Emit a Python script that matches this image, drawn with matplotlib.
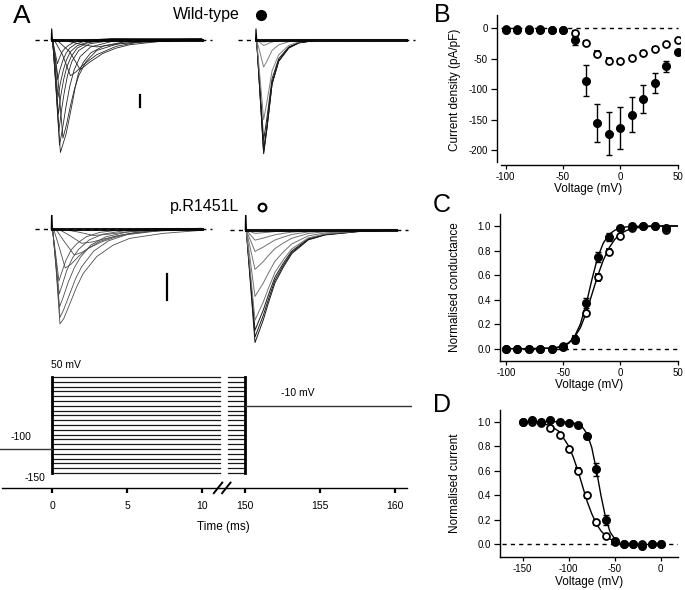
import matplotlib
matplotlib.use("Agg")
import matplotlib.pyplot as plt
from matplotlib.lines import Line2D
import numpy as np

plt.rcParams['font.family'] = ['Liberation Sans', 'DejaVu Sans']
plt.rcParams['axes.unicode_minus'] = False

## Panel B : I-V relation (pA/pF) ##
volt_iv = [-100, -90, -80, -70, -60, -50, -40, -30, -20, -10, 0, 10, 20, 30, 40, 50]
wt_iv = [-2, -2, -2, -2, -2, -3, -20, -86, -156, -173, -164, -142, -116, -90, -62, -39]
wt_iv_err = [1, 1, 1, 1, 1, 2, 7, 25, 31, 35, 34, 29, 23, 16, 9, 3]
mut_iv = [-1, -1, -1, -1, -2, -3, -7, -24, -42, -53, -54, -48, -41, -34, -26, -20]
mut_iv_err = [0.5, 0.5, 0.5, 0.5, 0.5, 1, 2, 3, 4, 4, 4, 3, 3, 3, 2, 2]

## Panel C : activation ##
volt_act = [-100, -90, -80, -70, -60, -50, -40, -30, -20, -10, 0, 10, 20, 30, 40]
wt_g = [0, 0, 0, 0, 0, 0.01, 0.07, 0.37, 0.75, 0.91, 0.98, 1.0, 1.0, 1.0, 0.98]
wt_g_err = [0, 0, 0, 0, 0, 0.01, 0.02, 0.04, 0.04, 0.03, 0.01, 0.01, 0.01, 0.01, 0.02]
mut_g = [0, 0, 0, 0, 0, 0.02, 0.08, 0.29, 0.58, 0.79, 0.92, 0.98, 1.0, 1.0, 0.97]
mut_g_err = [0, 0, 0, 0, 0, 0.01, 0.02, 0.02, 0.03, 0.02, 0.01, 0.01, 0.01, 0.01, 0.02]
# fit curves
fit_act_v = [-100, -80, -60, -55, -50, -45, -40, -35, -30, -25, -20, -15, -10, -5, 0, 5, 10, 20, 30, 50]
fit_act_wt = [0, 0, 0.003, 0.008, 0.02, 0.045, 0.1, 0.2, 0.36, 0.56, 0.74, 0.86, 0.93, 0.965,
              0.983, 0.992, 0.996, 0.999, 1.0, 1.0]
fit_act_mut = [0, 0, 0.005, 0.012, 0.025, 0.05, 0.095, 0.17, 0.29, 0.44, 0.59, 0.72, 0.82, 0.89,
               0.935, 0.962, 0.978, 0.993, 0.998, 1.0]

## Panel D : steady-state inactivation ##
volt_inact = [-150, -140, -130, -120, -110, -100, -90, -80, -70, -60, -50, -40, -30, -20, -10, 0]
wt_h = [1.0, 1.01, 1.0, 1.01, 1.0, 0.99, 0.97, 0.88, 0.61, 0.20, 0.03, 0.0, 0.0, -0.01, 0.0, 0.0]
wt_h_err = [0, 0, 0, 0, 0, 0.01, 0.01, 0.02, 0.05, 0.04, 0.01, 0, 0, 0, 0, 0]
mut_h = [1.0, 1.0, 0.99, 0.95, 0.89, 0.78, 0.60, 0.40, 0.18, 0.07, 0.02, 0, 0, 0, 0, 0]
mut_h_err = [0, 0, 0.01, 0.01, 0.01, 0.01, 0.02, 0.02, 0.02, 0.01, 0.01, 0, 0, 0, 0, 0]
fit_inact_v = [-150, -140, -130, -120, -110, -100, -95, -90, -85, -80, -75, -70, -65, -60, -55, -50, -45]
fit_inact_wt = [1.0, 1.0, 1.0, 1.0, 0.999, 0.995, 0.99, 0.975, 0.955, 0.9, 0.79, 0.61, 0.4, 0.22,
                0.1, 0.045, 0.02]
fit_inact_mut = [0.998, 0.996, 0.988, 0.968, 0.917, 0.8, 0.71, 0.6, 0.475, 0.35, 0.25, 0.168, 0.11,
                 0.07, 0.043, 0.027, 0.016]

## Panel A : current traces (time ms, current nA) ##
wt_act = [
    ([0, 0.8, 2.0, 3.0, 4.5, 6.5, 10], [0, -0.05, -0.4, -0.6, -0.35, -0.1, 0.05]),
    ([0, 0.4, 1.2, 1.9, 2.5, 3.4, 4.3, 5.2, 7.5, 10], [0, -0.1, -1.0, -2.5, -1.9, -1.15, -0.7, -0.42, -0.1, -0.05]),
    ([0, 0.2, 0.7, 1.25, 1.6, 2.1, 3.0, 4.3, 6.0, 10], [0, -0.1, -1.2, -3.0, -2.7, -2.1, -1.25, -0.55, -0.15, 0.0]),
    ([0, 0.08, 0.3, 0.58, 0.95, 1.18, 1.4, 1.56, 1.78, 2.1, 2.6, 3.5, 5, 10],
     [0, -0.2, -4.2, -9.4, -7.9, -6.5, -5.1, -4.0, -2.8, -1.9, -1.1, -0.5, -0.15, 0.1]),
    ([0, 0.1, 0.4, 0.75, 1.0, 1.25, 1.5, 1.8, 2.3, 3.0, 4.5, 10],
     [0, -0.2, -3.0, -8.2, -7.0, -5.5, -4.2, -3.0, -1.8, -0.9, -0.3, 0.0]),
    ([0, 0.07, 0.28, 0.52, 0.75, 0.95, 1.2, 1.5, 1.9, 2.6, 4, 10],
     [0, -0.2, -4.0, -8.8, -7.2, -5.6, -3.9, -2.5, -1.4, -0.6, -0.15, -0.05]),
    ([0, 0.07, 0.26, 0.48, 0.65, 0.85, 1.05, 1.35, 1.8, 2.5, 4, 10],
     [0, -0.2, -3.4, -7.6, -5.9, -4.3, -3.0, -1.8, -0.9, -0.35, -0.05, 0.05]),
    ([0, 0.06, 0.25, 0.45, 0.6, 0.8, 1.0, 1.3, 1.7, 2.4, 4, 10],
     [0, -0.15, -2.8, -6.2, -4.7, -3.3, -2.3, -1.4, -0.7, -0.25, 0.0, 0.0]),
    ([0, 0.06, 0.24, 0.42, 0.58, 0.78, 0.98, 1.25, 1.7, 2.4, 4, 10],
     [0, -0.1, -2.2, -4.8, -3.6, -2.5, -1.7, -1.0, -0.5, -0.2, 0.05, 0.1]),
    ([0, 0.05, 0.22, 0.4, 0.55, 0.75, 0.95, 1.2, 1.6, 2.3, 4, 10],
     [0, -0.1, -1.5, -3.3, -2.5, -1.7, -1.15, -0.7, -0.35, -0.1, 0.05, -0.05]),
    ([0, 0.05, 0.2, 0.38, 0.52, 0.7, 0.9, 1.15, 1.5, 2.2, 4, 10],
     [0, -0.05, -0.9, -2.0, -1.5, -1.0, -0.7, -0.45, -0.2, -0.05, 0.1, 0.05]),
]
mut_act = [
    ([0, 0.08, 0.3, 0.55, 0.8, 1.22, 1.67, 2.1, 3.0, 4.1, 5.2, 7.4, 10],
     [0, -0.1, -1.6, -3.65, -3.45, -2.86, -2.22, -1.71, -1.06, -0.62, -0.36, -0.17, -0.05]),
    ([0, 0.08, 0.3, 0.55, 0.8, 1.2, 1.6, 2.0, 2.8, 3.8, 5.0, 7.0, 10],
     [0, -0.1, -1.5, -3.4, -3.1, -2.5, -1.9, -1.45, -0.85, -0.45, -0.22, -0.08, 0.0]),
    ([0, 0.07, 0.28, 0.52, 0.75, 1.1, 1.5, 1.9, 2.6, 3.6, 5.0, 7.0, 10],
     [0, -0.1, -1.3, -3.0, -2.65, -2.05, -1.5, -1.1, -0.62, -0.3, -0.12, -0.03, 0.02]),
    ([0, 0.07, 0.26, 0.5, 0.7, 1.0, 1.4, 1.8, 2.5, 3.4, 4.8, 7.0, 10],
     [0, -0.1, -1.1, -2.5, -2.15, -1.6, -1.1, -0.78, -0.42, -0.2, -0.07, 0.0, 0.0]),
    ([0, 0.06, 0.25, 0.48, 0.65, 0.95, 1.3, 1.7, 2.3, 3.2, 4.5, 7.0, 10],
     [0, -0.05, -0.9, -2.0, -1.7, -1.2, -0.8, -0.55, -0.3, -0.13, -0.04, 0.02, 0.0]),
    ([0, 0.15, 0.5, 0.9, 1.3, 1.8, 2.4, 3.2, 4.2, 5.5, 7.5, 10],
     [0, -0.05, -0.7, -1.5, -1.35, -1.05, -0.75, -0.48, -0.28, -0.14, -0.05, 0.0]),
    ([0, 0.3, 0.8, 1.5, 2.0, 2.6, 3.3, 4.2, 5.2, 6.7, 10],
     [0, -0.03, -0.45, -1.0, -0.9, -0.7, -0.5, -0.32, -0.18, -0.08, 0.02]),
    ([0, 0.5, 1.2, 2.0, 2.7, 3.5, 4.5, 5.8, 7.5, 10],
     [0, -0.02, -0.25, -0.55, -0.5, -0.38, -0.25, -0.13, -0.05, 0.0]),
    ([0, 0.8, 1.8, 2.8, 3.8, 5.2, 7.0, 10], [0, -0.02, -0.12, -0.25, -0.2, -0.1, -0.03, 0.03]),
]
# test pulse to -10 mV after prepulses : one time course, scaled by availability
wt_inact_t = [0, 0.05, 0.25, 0.51, 0.73, 1.07, 1.51, 2.18, 2.85, 4.0, 10]
wt_inact_shape = [0, -0.02, -0.44, -1.0, -0.78, -0.39, -0.19, -0.073, -0.028, -0.005, 0]
wt_inact_peak = 9.5
wt_inact_frac = [1.0, 0.99, 0.97, 0.88, 0.70, 0.24, 0.05, 0.02, 0.0]
mut_inact_t = [0, 0.05, 0.3, 0.62, 0.84, 1.17, 1.51, 1.95, 2.51, 3.07, 4.17, 5.29, 7.5, 10]
mut_inact_shape = [0, -0.02, -0.45, -1.0, -0.92, -0.8, -0.65, -0.47, -0.33, -0.21, -0.088, -0.044,
                   -0.014, 0]
mut_inact_peak = 4.33
mut_inact_frac = [1.0, 0.95, 0.89, 0.80, 0.59, 0.35, 0.19, 0.09, 0.03, 0.0]
artefact_t = [-0.03, 0.0, 0.05]
artefact_i = [0, 0.9, 0]
sweep_len = 10
scale_bar_nA = 1

## Protocol ##
prepulse_levels = [-150, -140, -130, -120, -110, -100, -90, -80, -70, -60, -50,
                   -40, -30, -20, -10, 0, 10, 20, 30, 40, 50]
holding_mv = -100
test_mv = -10
pulse_end = 150
sweep_end = 161.1
break_lo, break_hi = 11.2, 148.86
time_ticks = [0, 5, 10, 150, 155, 160]

W, H = 685, 590
fig = plt.figure(figsize=(W / 100, H / 100), dpi=100)


def box(x0, y0, x1, y1):
    return fig.add_axes([x0 / W, 1 - y1 / H, (x1 - x0) / W, (y1 - y0) / H])


def tx(t):
    t = np.asarray(t, dtype=float)
    return np.where(t <= break_lo + 0.01, t, t - 137.13)


dash = (0, (3, 3))

## ---- Panel A traces ---- ##
def trace_axes(x0, y0, x1, y1, xo, yo, ppn):
    ax = box(x0, y0, x1, y1)
    ax.set_xlim((x0 - xo) / 15, (x1 - xo) / 15)
    ax.set_ylim(-(y1 - yo) / ppn, -(y0 - yo) / ppn)
    ax.axis('off')
    return ax


def baseline(ax, lo, hi):
    ax.plot([lo, hi], [0, 0], color='k', lw=1.0, ls=dash, zorder=1)
    ax.plot([0, sweep_len], [0, 0], color='k', lw=2.2, zorder=3, alpha=0.9)
    ax.plot(artefact_t, artefact_i, color='k', lw=0.8, zorder=3)


ax1 = trace_axes(30, 20, 220, 165, 51.7, 39.7, 12)
baseline(ax1, -1.1, 10.7)
for t, i in wt_act:
    ax1.plot(t, i, color='0.15', lw=0.6, zorder=2)
ax1.plot([5.9, 5.9], [-4.6, -4.6 - scale_bar_nA], color='k', lw=1.6)

ax2 = trace_axes(225, 20, 420, 165, 256, 39.7, 12)
baseline(ax2, -1.2, 10.6)
for f in wt_inact_frac:
    c = '0.1' if f > 0.8 else '0.5'
    ax2.plot(wt_inact_t, np.array(wt_inact_shape) * wt_inact_peak * f, color=c, lw=0.7, zorder=2)

ax3 = trace_axes(30, 215, 220, 340, 51.7, 229, 26)
baseline(ax3, -1.1, 10.7)
for t, i in mut_act:
    ax3.plot(t, i, color='0.3', lw=0.6, zorder=2)
ax3.plot([7.69, 7.69], [-1.73, -1.73 - scale_bar_nA], color='k', lw=1.6)

ax4 = trace_axes(222, 215, 420, 355, 245.7, 230, 26)
baseline(ax4, -1.05, 10.8)
for f in mut_inact_frac:
    c = '0.1' if f > 0.85 else '0.45'
    ax4.plot(mut_inact_t, np.array(mut_inact_shape) * mut_inact_peak * f, color=c, lw=0.7, zorder=2)

fig.text(22 / W, 1 - 16 / H, 'A', fontsize=19, ha='center', va='center')
fig.text(206 / W, 1 - 14 / H, 'Wild-type', fontsize=11.5, ha='center', va='center')
fig.add_artist(Line2D([261 / W], [1 - 15 / H], marker='o', ms=7, color='k',
                      transform=fig.transFigure))
fig.text(205 / W, 1 - 206 / H, 'p.R1451L', fontsize=11.5, ha='center', va='center')
fig.add_artist(Line2D([262 / W], [1 - 207 / H], marker='o', ms=5.5, mfc='white', mec='k', mew=1.6,
                      transform=fig.transFigure))

## ---- Protocol ---- ##
axP = box(0, 350, 412, 495)
axP.set_xlim(-52 / 15, 360 / 15)
axP.set_ylim(-100 - 46 / 0.48, -100 + 99 / 0.48)
for v in prepulse_levels:
    axP.plot(tx([0, break_lo]), [v, v], color='0.1', lw=0.9)
    axP.plot(tx([break_hi, pulse_end]), [v, v], color='0.1', lw=0.9)
vmin, vmax = min(prepulse_levels), max(prepulse_levels)
axP.plot(tx([0, 0]), [vmin, vmax], color='k', lw=2.0)
axP.plot(tx([pulse_end, pulse_end]), [vmin, vmax], color='k', lw=2.0)
axP.plot(tx([-3.47, 0]), [holding_mv, holding_mv], color='0.2', lw=1.0)
axP.plot(tx([pulse_end, sweep_end]), [test_mv, test_mv], color='0.2', lw=1.0)
axP.text(-0.05, 75, '50 mV', fontsize=7.5, ha='left', va='center')
axP.text(-2.07, -75, '-100', fontsize=7.5, ha='center', va='center')
axP.text(-1.13, -160, '-150', fontsize=7.5, ha='center', va='center')
axP.text(16.4, 16.7, '-10 mV', fontsize=7.5, ha='center', va='center')
for s in ['top', 'right', 'left']:
    axP.spines[s].set_visible(False)
axP.spines['bottom'].set_position(('data', -181.25))
axP.spines['bottom'].set_bounds(-3.33, 23.67)
axP.spines['bottom'].set_linewidth(1.0)
axP.set_yticks([])
axP.set_xticks(tx(time_ticks))
axP.set_xticklabels([str(t) for t in time_ticks])
axP.tick_params(axis='x', direction='out', length=3.5, width=1.6, labelsize=7.5, pad=6)
for xb in [11.07, 11.62]:
    axP.plot([xb - 0.28, xb + 0.28], [-192, -170], color='k', lw=1.4, clip_on=False)
fig.text(223 / W, 1 - 527 / H, 'Time (ms)', fontsize=8.5, ha='center', va='center')


## ---- Right panels ---- ##
def style(ax):
    for s in ['top', 'right']:
        ax.spines[s].set_visible(False)
    for s in ['left', 'bottom']:
        ax.spines[s].set_linewidth(1.0)
    ax.tick_params(direction='out', width=0.9, labelsize=7, pad=2)
    ax.tick_params(axis='y', length=4.5)
    ax.tick_params(axis='x', length=3)


def markers(ax, v, wt, wte, mut, mute):
    ax.errorbar(v, mut, yerr=mute, fmt='o', ms=5, mfc='white', mec='k', mew=1.3,
                ecolor='k', elinewidth=1, capsize=2, capthick=1, zorder=4)
    ax.errorbar(v, wt, yerr=wte, fmt='o', ms=5.5, color='k',
                ecolor='k', elinewidth=1, capsize=2, capthick=1, zorder=5)


axB = box(497, 15, 680, 165)
axB.set_xlim(-107.6, 52.0)
axB.set_ylim(-224.6, 21.9)
axB.plot([-104, 50], [0, 0], color='k', lw=1.0, ls=dash, zorder=1)
markers(axB, volt_iv, wt_iv, wt_iv_err, mut_iv, mut_iv_err)
style(axB)
axB.spines['left'].set_bounds(-219.7, 21.9)
axB.spines['bottom'].set_bounds(-104.5, 50.3)
axB.set_xticks([-100, -50, 0, 50])
axB.set_yticks([0, -50, -100, -150, -200])
axB.set_xlabel('Voltage (mV)', fontsize=8.5, labelpad=1)
axB.set_ylabel('Current density (pA/pF)', fontsize=8.5)
axB.yaxis.set_label_coords((461 - 497) / 183, 0.5)

axC = box(500, 214.3, 678, 360.7)
axC.set_xlim(-105.2, 50.3)
axC.set_ylim(-0.098, 1.095)
axC.plot([-100, 50], [0, 0], color='k', lw=1.0, ls=dash, zorder=1)
axC.plot(fit_act_v, fit_act_wt, color='k', lw=1.0, zorder=3)
axC.plot(fit_act_v, fit_act_mut, color='k', lw=1.0, zorder=3)
markers(axC, volt_act, wt_g, wt_g_err, mut_g, mut_g_err)
style(axC)
axC.set_xticks([-100, -50, 0, 50])
axC.set_yticks([0, 0.2, 0.4, 0.6, 0.8, 1.0])
axC.set_yticklabels(['0.0', '0.2', '0.4', '0.6', '0.8', '1.0'])
axC.set_xlabel('Voltage (mV)', fontsize=8.5, labelpad=1)
axC.set_ylabel('Normalised conductance', fontsize=8.5)
axC.yaxis.set_label_coords((461 - 500) / 178, 0.5)

axD = box(500, 410, 678, 557.3)
axD.set_xlim(-174.7, 18.8)
axD.set_ylim(-0.106, 1.095)
axD.plot([-172, 18.8], [0, 0], color='k', lw=1.0, ls=dash, zorder=1)
axD.plot(fit_inact_v, fit_inact_wt, color='k', lw=1.0, zorder=3)
axD.plot(fit_inact_v, fit_inact_mut, color='k', lw=1.0, zorder=3)
markers(axD, volt_inact, wt_h, wt_h_err, mut_h, mut_h_err)
style(axD)
axD.set_xticks([-150, -100, -50, 0])
axD.set_yticks([0, 0.2, 0.4, 0.6, 0.8, 1.0])
axD.set_yticklabels(['0.0', '0.2', '0.4', '0.6', '0.8', '1.0'])
axD.set_xlabel('Voltage (mV)', fontsize=8.5, labelpad=1)
axD.set_ylabel('Normalised current', fontsize=8.5)
axD.yaxis.set_label_coords((461 - 500) / 178, 0.5)

for lab, y in [('B', 15), ('C', 205), ('D', 405)]:
    fig.text(442 / W, 1 - y / H, lab, fontsize=18, ha='center', va='center')

fig.savefig('out.png', dpi=100)
